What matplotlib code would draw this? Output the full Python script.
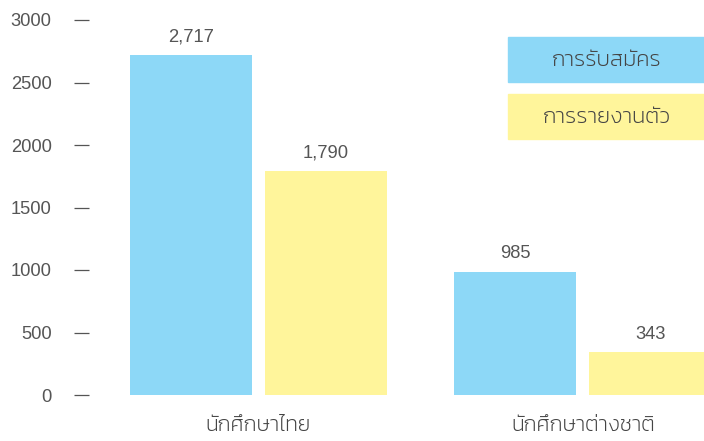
import matplotlib
matplotlib.use("Agg")
import matplotlib.pyplot as plt
from matplotlib import font_manager
from matplotlib.patches import Rectangle
import numpy as np
import os

# ข้อมูล
categories = ["นักศึกษาไทย", "นักศึกษาต่างชาติ"]
series_names = ["การรับสมัคร", "การรายงานตัว"]
applied = [2717, 985]
reported = [1790, 343]
yticks = [0, 500, 1000, 1500, 2000, 2500, 3000]

blue = "#8DD8F7"
yellow = "#FFF59B"
text_color = "#444444"
num_color = "#555555"

# ฟอนต์ไทย
thai_path = "/usr/share/fonts/truetype/google-fonts/Kanit-ExtraLight.ttf"
if os.path.exists(thai_path):
    thai_fp = font_manager.FontProperties(fname=thai_path, size=15.5)
    leg_fp = font_manager.FontProperties(fname=thai_path, size=16)
else:
    thai_fp = font_manager.FontProperties(family=["Noto Sans", "DejaVu Sans"], size=15)
    leg_fp = thai_fp
plt.rcParams["font.family"] = ["Liberation Sans", "DejaVu Sans"]
num_size = 13.2

fig = plt.figure(figsize=(7.04, 4.41), dpi=100)
ax = fig.add_axes([89 / 704, 46 / 441, 615 / 704, 375 / 441])

x = np.arange(len(categories))
w = 0.376
off = 0.208
b1 = ax.bar(x - off, applied, w, color=blue)
b2 = ax.bar(x + off, reported, w, color=yellow)

for bars, vals in [(b1, applied), (b2, reported)]:
    for r, v in zip(bars, vals):
        ax.text(r.get_x() + r.get_width() / 2, v + 75, f"{v:,}", ha="center", va="bottom",
                fontsize=num_size, color=num_color, clip_on=False)

ax.set_xlim(-0.522, 1.373)
ax.set_ylim(0, 3000)
ax.set_yticks(yticks)
ax.set_yticklabels([str(t) for t in yticks], fontsize=num_size, color=num_color)
ax.tick_params(axis="y", length=11, width=0.9, color="#555555", pad=16)
ax.set_xticks(x)
ax.set_xticklabels(categories, fontproperties=thai_fp, color=text_color)
ax.tick_params(axis="x", length=0, pad=15)
for s in ax.spines.values():
    s.set_visible(False)

# legend boxes
for i, (name, col) in enumerate(zip(series_names, [blue, yellow])):
    top = 37 + i * 57
    fig.patches.append(Rectangle((508 / 704, 1 - (top + 45) / 441), 196 / 704, 45 / 441,
                                 transform=fig.transFigure, color=col, zorder=0))
    fig.text(607 / 704, 1 - (top + 23) / 441, name, ha="center", va="center",
             fontproperties=leg_fp, color=text_color)

fig.savefig("out.png")
